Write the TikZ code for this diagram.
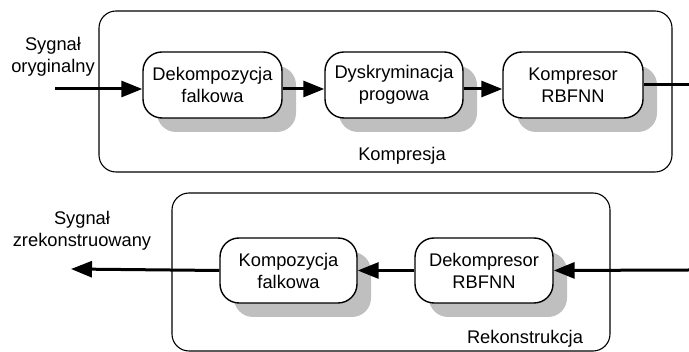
\documentclass[tikz,border=0pt]{standalone}
\usepackage{fontspec}
\setmainfont{Liberation Sans}
\usetikzlibrary{arrows.meta,shadows}
\begin{document}
\begin{tikzpicture}[x=1pt,y=-1pt,
  every node/.style={font=\fontsize{18.3}{22}\selectfont},
  container/.style={draw, line width=1.1pt, rounded corners=17pt},
  block/.style={draw, line width=1.4pt, fill=white, rounded corners=19pt,
    minimum height=66pt, align=center, inner sep=2pt,
    general shadow={fill=black!25, shadow xshift=14pt, shadow yshift=-14pt}},
  flow/.style={line width=3pt, -{Triangle[length=21pt,width=16pt]}},
  plain/.style={line width=3pt},
  caption/.style={align=center, inner sep=0pt}]
\useasboundingbox (0,0) rectangle (689,352);

% compression stage
\node[container, minimum width=573pt, minimum height=161pt] (cmp) at (385.5,91.5) {};
\node[caption] (cmplbl) at (402,156) {Kompresja};

\node[block, minimum width=139pt] (dek) at (212.5,85) {Dekompozycja\\falkowa};
\node[block, minimum width=138pt] (dys) at (394,85) {Dyskryminacja\\progowa};
\node[block, minimum width=140pt] (kom) at (573,85) {Kompresor\\RBFNN};

\node[caption] (inlbl) at (53,57) {Sygnał\\oryginalny};
\coordinate (in) at (55,89);
\coordinate (out) at (689,85);

\draw[flow] (in) -- ([yshift=-4pt]dek.west);
\draw[flow] ([yshift=-4pt]dek.east) -- ([yshift=-4pt]dys.west);
\draw[flow] ([yshift=-4pt]dys.east) -- ([yshift=-4pt]kom.west);
\draw[plain] (kom.east) -- (out);

% reconstruction stage
\node[container, minimum width=438pt, minimum height=158pt] (rek) at (391,272) {};
\node[caption] (reklbl) at (525,339) {Rekonstrukcja};

\node[block, minimum width=137pt, minimum height=65pt] (kmp) at (288.5,270.5) {Kompozycja\\falkowa};
\node[block, minimum width=138pt, minimum height=65pt] (dkm) at (484,270.5) {Dekompresor\\RBFNN};

\node[caption] (outlbl) at (82,231) {Sygnał\\zrekonstruowany};
\coordinate (rin) at (689,270);
\coordinate (rout) at (71,269);

\draw[flow] (rin) -- (dkm.east);
\draw[flow] (dkm.west) -- (kmp.east);
\draw[flow] (kmp.west) -- (rout);
\end{tikzpicture}
\end{document}
